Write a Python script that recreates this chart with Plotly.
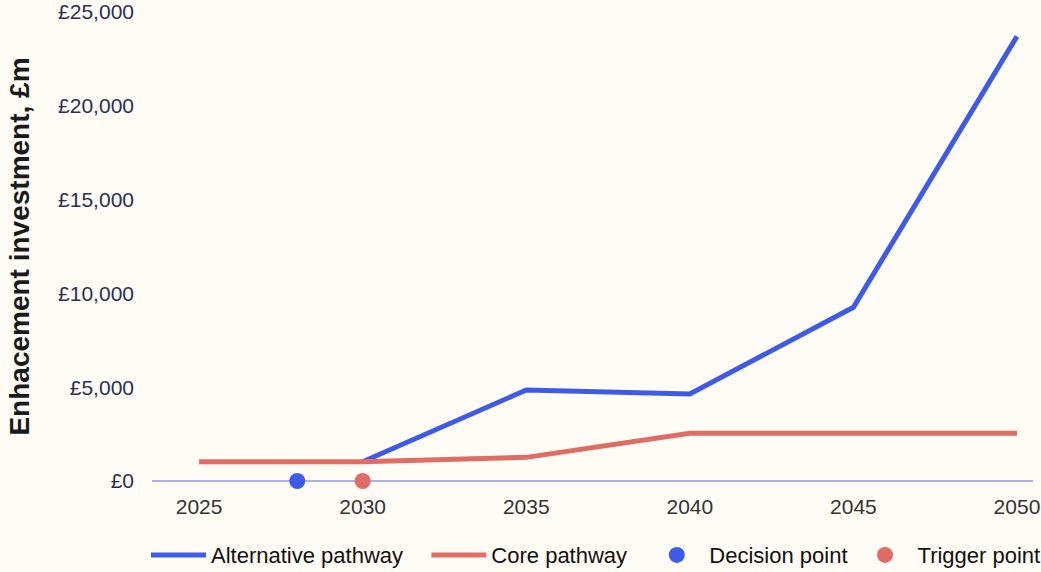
import plotly.graph_objects as go

years = [2025, 2030, 2035, 2040, 2045, 2050]
alternative = [1030, 1030, 4850, 4640, 9260, 23700]
core = [1030, 1030, 1260, 2540, 2540, 2540]
decision_year = [2028]
decision_value = [0]
trigger_year = [2030]
trigger_value = [0]

BLUE = "#3d5ae8"
RED = "#e06c66"
BG = "#fffcf5"
NBSP = "\u00a0"

fig = go.Figure()
# alternative pathway only diverges from 2030, so it is drawn from there under the core line
fig.add_trace(go.Scatter(x=years[1:], y=alternative[1:], mode="lines",
                         name="Alternative pathway" + NBSP * 3,
                         line=dict(color=BLUE, width=5)))
fig.add_trace(go.Scatter(x=years, y=core, mode="lines", name="Core pathway" + NBSP * 2,
                         line=dict(color=RED, width=5)))
fig.add_trace(go.Scatter(x=decision_year, y=decision_value, mode="markers", name="Decision point",
                         marker=dict(color=BLUE, size=16), cliponaxis=False))
fig.add_trace(go.Scatter(x=trigger_year, y=trigger_value, mode="markers", name="Trigger point",
                         marker=dict(color=RED, size=16), cliponaxis=False))

fig.update_layout(
    width=1041, height=572,
    paper_bgcolor=BG, plot_bgcolor=BG,
    margin=dict(l=152, r=8, t=12, b=91, autoexpand=False),
    font=dict(family="Liberation Sans, Arial, sans-serif", size=21, color="#333333"),
    showlegend=True,
    legend=dict(orientation="h", x=-0.0068, xanchor="left",
                y=-0.158, yanchor="middle",
                font=dict(size=22, color="#111111"), itemwidth=55,
                traceorder="normal", bgcolor="rgba(0,0,0,0)"),
    xaxis=dict(range=[2023.56, 2050.49], tickvals=years, ticktext=[str(y) for y in years],
               showgrid=False, zeroline=False, showline=False, ticks="",
               tickfont=dict(size=21, color="#333333"), ticklabelstandoff=11),
    yaxis=dict(range=[0, 25000], dtick=5000, tickprefix="£", tickformat=",",
               showgrid=False, zeroline=True, zerolinecolor="#a9b0f2", zerolinewidth=1.5,
               tickfont=dict(size=21, color="#2a3052"), ticks="", ticklabelstandoff=17,
               title=dict(text="<b>Enhacement investment, £m</b>",
                          font=dict(size=28, color="#1a1a1a"), standoff=20)),
)

fig.write_html("out.html")
